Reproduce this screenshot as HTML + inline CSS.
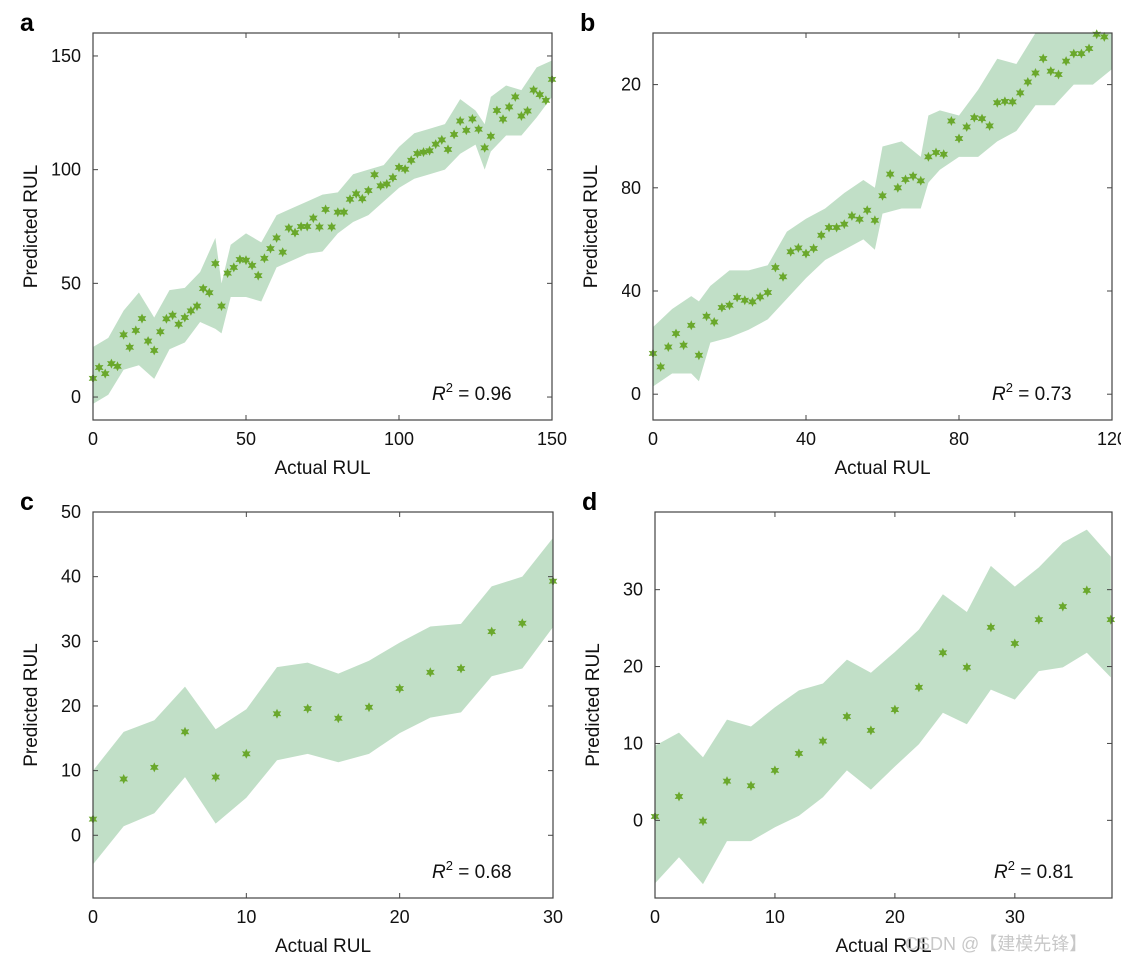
<!DOCTYPE html>
<html><head><meta charset="utf-8"><style>
body{margin:0;background:#fff}
svg{display:block;font-family:"Liberation Sans",Arial,sans-serif}
</style></head><body>
<svg id="c" width="1121" height="965" viewBox="0 0 1121 965"></svg>
<script>
// Panel a data
const aX=[];for(let i=0;i<=150;i+=2)aX.push(i);
const aY=[8.2,13,10.3,14.7,13.5,27.4,21.9,29.3,34.5,24.6,20.5,28.7,34.4,36,32,35,37.9,40,47.7,45.9,58.7,40,54.5,57,60.5,60.2,57.9,53.4,61,65.3,70,63.7,74.3,72.3,75,75,78.7,74.8,82.5,74.8,81.3,81.3,87,89.4,87.2,90.8,97.8,92.9,93.7,96.5,101,100.2,104.1,107.1,107.7,108.3,111.2,113.1,108.9,115.5,121.4,117.3,122.3,117.8,109.6,114.7,126,122.2,127.6,132,123.6,125.8,135,133,130.5,139.7];
const aBX=[0,5,10,15,20,25,30,35,40,42,45,50,55,60,65,70,75,80,85,90,95,100,105,110,115,120,125,128,130,135,140,145,150];
const aUp=[22,26,38,46,35,47,48,55,70,50,67,72,68,80,83,86,89,90,98,100,102,110,116,118,120,131,126,120,132,137,135,145,148];
const aLo=[-3,1,12,14,8,21,24,33,30,28,44,44,42,57,60,63,64,72,77,80,86,92,96,98,100,107,111,100,108,115,115,123,132];
// Panel b data
const bX=[];for(let i=0;i<=118;i+=2)bX.push(i);
const bY=[15.8,10.6,18.3,23.5,19,26.7,15.1,30.2,28,33.6,34.5,37.5,36.4,35.8,37.7,39.4,49.1,45.5,55.2,56.7,54.5,56.5,61.6,64.6,64.6,65.9,69.1,67.8,71.3,67.4,76.9,85.3,80,83.2,84.5,82.7,92,93.7,93,105.9,99.1,103.6,107.2,106.8,104,113,113.5,113.3,116.8,121,124.5,130.1,125.2,123.9,129.1,132,132,134,139.5,138.5];
const bBX=[0,5,10,12,15,20,25,30,35,40,45,50,55,58,60,65,70,72,75,80,85,90,95,100,105,110,115,120];
const bUp=[26,33,38,36,42,48,48,50,63,68,72,78,83,80,96,98,92,108,110,108,118,130,128,140,142,142,145,140];
const bLo=[3,8,8,5,20,22,25,29,37,45,52,56,60,56,70,72,72,82,87,92,92,98,102,112,112,120,120,126];
// Panel c data
const cX=[0,2,4,6,8,10,12,14,16,18,20,22,24,26,28,30];
const cY=[2.5,8.7,10.5,16,9,12.6,18.8,19.6,18.1,19.8,22.7,25.2,25.8,31.5,32.8,39.3];
const cUp=[10,16,17.8,23,16.4,19.5,26,26.7,25,27,29.8,32.3,32.7,38.5,40,46];
const cLo=[-4.5,1.4,3.4,9,1.8,5.8,11.6,12.6,11.3,12.6,15.8,18.2,19,24.6,25.8,32.2];
// Panel d data
const dX=[0,2,4,6,8,10,12,14,16,18,20,22,24,26,28,30,32,34,36,38];
const dY=[0.5,3.1,-0.1,5.1,4.5,6.5,8.7,10.3,13.5,11.7,14.4,17.3,21.8,19.9,25.1,23,26.1,27.8,29.9,26.1];
const dUp=[9.7,11.4,8.2,13.1,12.2,14.7,16.9,17.8,20.9,19.2,21.9,24.8,29.4,27.1,33.1,30.4,32.9,36.1,37.8,34.3];
const dLo=[-8.2,-4.8,-8.3,-2.7,-2.7,-0.9,0.6,3,6.5,4,7,9.9,14,12.5,17,15.7,19.4,19.9,21.8,18.6];
// tick labels
const aXT=[0,50,100,150],aYT=[0,50,100,150];
const bXT=[0,40,80,120],bYT=[0,40,80,120];
const cXT=[0,10,20,30],cYT=[0,10,20,30,40,50];
const dXT=[0,10,20,30],dYT=[0,10,20,30];

const svg=document.getElementById('c');
const NS='http://www.w3.org/2000/svg';
function el(t,a,p){const e=document.createElementNS(NS,t);for(const k in a)e.setAttribute(k,a[k]);(p||svg).appendChild(e);return e;}

function panel(o){
  const g=el('g',{});
  
  
  const sx=v=>o.L+(v-o.x0)/(o.x1-o.x0)*(o.R-o.L);
  const sy=v=>o.B-(v-o.y0)/(o.y1-o.y0)*(o.B-o.T);
  const clip=el('clipPath',{id:'cl'+o.id},g);
  el('rect',{x:o.L,y:o.T,width:o.R-o.L,height:o.B-o.T},clip);
  if(o.clipY){const c=el('clipPath',{id:'ylc'+o.id},g);el('rect',{x:o.L-31,y:0,width:40,height:965},c);}
  // band
  let pts=[];
  o.bx.forEach((x,i)=>pts.push(sx(x)+','+sy(o.up[i])));
  for(let i=o.bx.length-1;i>=0;i--)pts.push(sx(o.bx[i])+','+sy(o.lo[i]));
  const band=el('polygon',{points:pts.join(' '),fill:'#c1dfc7','clip-path':'url(#cl'+o.id+')'},g);
  
  
  // markers
  o.px.forEach((x,i)=>{
    const cx=sx(x),cy=sy(o.py[i]);let s=[];
    for(let k=0;k<12;k++){const r=k%2?2.6:5,a=Math.PI/6*k-Math.PI/2;s.push((cx+r*Math.cos(a)).toFixed(1)+','+(cy+r*Math.sin(a)).toFixed(1));}
    const m=el('polygon',{points:s.join(' '),fill:'#6aa82c'},g);
    
    
  });
  // frame
  const fr=el('rect',{x:o.L,y:o.T,width:o.R-o.L,height:o.B-o.T,fill:'none',stroke:'#444','stroke-width':1.2},g);
  
  
  o.xt.forEach(v=>{
    const x=sx(v);
    el('line',{x1:x,x2:x,y1:o.B,y2:o.B-5,stroke:'#444'},g);
    el('line',{x1:x,x2:x,y1:o.T,y2:o.T+5,stroke:'#444'},g);
    const t=el('text',{x:x,y:o.B+25,'font-size':18,'text-anchor':'middle',fill:'#111'},g);t.textContent=v;
    
    
  });
  o.yt.forEach(v=>{
    const y=sy(v);
    el('line',{x1:o.L,x2:o.L+5,y1:y,y2:y,stroke:'#444'},g);
    el('line',{x1:o.R,x2:o.R-5,y1:y,y2:y,stroke:'#444'},g);
    const t=el('text',{x:o.L-12,y:y+6,'font-size':18,'text-anchor':'end',fill:'#111'},g);t.textContent=v;
    if(o.clipY)t.setAttribute('clip-path','url(#ylc'+o.id+')');
    
    
  });
  const xt=el('text',{x:(o.L+o.R)/2,y:o.B+54,'font-size':19,'text-anchor':'middle',fill:'#111'},g);xt.textContent='Actual RUL';
  
  
  const yc=(o.T+o.B)/2;
  const yt=el('text',{x:o.L-56,y:yc,'font-size':19,'text-anchor':'middle',fill:'#111',transform:'rotate(-90 '+(o.L-56)+' '+yc+')'},g);yt.textContent='Predicted RUL';
  
  
  const lt=el('text',{x:o.L-73,y:o.T-2,'font-size':25,'font-weight':'bold',fill:'#000'},g);lt.textContent=o.id;
  
  
  const r=el('text',{x:o.L+339,y:o.B-20,'font-size':19,fill:'#111'},g);
  r.innerHTML='<tspan font-style="italic">R</tspan><tspan dy="-8" font-size="13">2</tspan><tspan dy="8"> = '+o.r2+'</tspan>';
  
  
}
panel({id:'a',L:93,R:552,T:33,B:420,x0:0,x1:150,y0:-10.1,y1:160.1,px:aX,py:aY,bx:aBX,up:aUp,lo:aLo,xt:aXT,yt:aYT,r2:'0.96'});
panel({id:'b',L:653,R:1112,T:33,B:420,x0:0,x1:120,y0:-10,y1:140,px:bX,py:bY,bx:bBX,up:bUp,lo:bLo,xt:bXT,yt:bYT,r2:'0.73',clipY:true});
panel({id:'c',L:93,R:553,T:512,B:898,x0:0,x1:30,y0:-9.7,y1:50,px:cX,py:cY,bx:cX,up:cUp,lo:cLo,xt:cXT,yt:cYT,r2:'0.68'});
panel({id:'d',L:655,R:1112,T:512,B:898,x0:0,x1:38.1,y0:-10.1,y1:40.1,px:dX,py:dY,bx:dX,up:dUp,lo:dLo,xt:dXT,yt:dYT,r2:'0.81'});
const wm=el('text',{x:905,y:950,'font-size':18,fill:'#c8c8c8','font-family':'"Liberation Sans","Noto Sans CJK SC",sans-serif'});
wm.textContent='CSDN @【建模先锋】';


</script>
</body></html>
